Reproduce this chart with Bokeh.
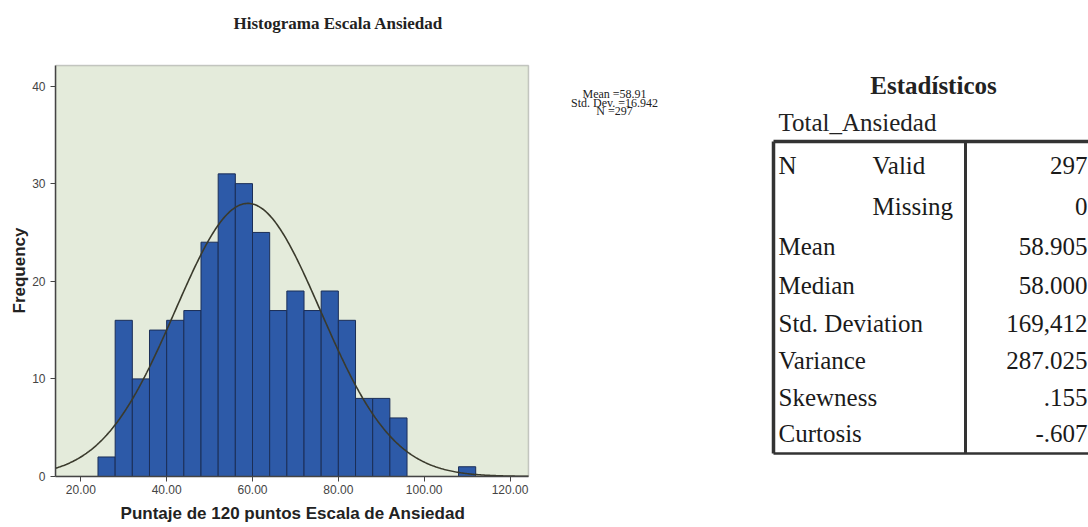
import numpy as np
from bokeh.plotting import figure
from bokeh.layouts import row
from bokeh.models import Range1d, FixedTicker, NumeralTickFormatter, BoxAnnotation, Title
from bokeh.core.properties import value
from bokeh.embed import file_html
from bokeh.resources import INLINE

# ---------------- data ----------------
bin_width = 4
bin_starts = [24, 28, 32, 36, 40, 44, 48, 52, 56, 60, 64, 68, 72, 76, 80, 84, 88, 92, 96, 100, 104, 108]
counts     = [2, 16, 10, 15, 16, 17, 24, 31, 30, 25, 17, 19, 17, 19, 16, 8, 8, 6, 0, 0, 0, 1]
mean_val = 58.91
sd_val = 16.942
n_val = 297
x_ticks = [20, 40, 60, 80, 100, 120]
y_ticks = [0, 10, 20, 30, 40]

chart_title = "Histograma Escala Ansiedad"
legend_lines = ["Mean =58.91", "Std. Dev. =16.942", "N =297"]

table_title = "Estadísticos"
table_var = "Total_Ansiedad"
row_labels = ["N", "", "Mean", "Median", "Std. Deviation", "Variance", "Skewness", "Curtosis"]
row_sub = ["Valid", "Missing", "", "", "", "", "", ""]
row_values = ["297", "0", "58.905", "58.000", "169,412", "287.025", ".155", "-.607"]

# ---------------- layout constants (pixels) ----------------
H = 527
PLOT_TOP, BOTTOM = 65, 476      # plot box in page pixels
LEFT, RIGHT = 55, 528
LW = 548
X0, X1 = 14.1, 124.3            # plot box in data units
Y0, Y1 = 0, 42.1
px_x = (RIGHT - LEFT) / (X1 - X0)
px_y = (BOTTOM - PLOT_TOP) / (Y1 - Y0)
XR_END = X1 + 2 / px_x          # frame a little wider than the box
YR_END = Y1 + PLOT_TOP / px_y   # frame reaches the top of the page

# ---------------- histogram ----------------
p = figure(width=LW, height=H, output_backend="svg", toolbar_location=None,
           x_range=Range1d(X0, XR_END), y_range=Range1d(Y0, YR_END),
           min_border_left=LEFT, min_border_right=LW - (RIGHT + 2), min_border_top=0,
           min_border_bottom=H - BOTTOM)
p.background_fill_color = "white"
p.border_fill_color = "white"
p.outline_line_color = None
p.grid.visible = False

p.add_layout(BoxAnnotation(left=X0, right=X1, bottom=Y0, top=Y1,
                           fill_color="#E4EBDB", fill_alpha=1.0,
                           line_color="#555555", line_width=1.5, level="underlay"))

lefts = np.array(bin_starts, dtype=float)
p.quad(left=lefts, right=lefts + bin_width, bottom=0, top=counts,
       fill_color="#2D5AA8", line_color="#1B2E57", line_width=1)

xs = np.linspace(X0, X1, 400)
ys = n_val * bin_width * np.exp(-0.5 * ((xs - mean_val) / sd_val) ** 2) / (sd_val * np.sqrt(2 * np.pi))
p.line(xs, ys, line_color="#3A3A2C", line_width=1.6)

for ax in (p.xaxis, p.yaxis):
    ax.axis_line_color = "#444444"
    ax.axis_line_width = 1.5
    ax.major_tick_line_color = "#444444"
    ax.major_tick_out = 5
    ax.major_tick_in = 0
    ax.minor_tick_line_color = None
    ax.major_label_text_font = "Liberation Sans"
    ax.major_label_text_font_size = "12px"
    ax.major_label_text_color = "#444444"
    ax.axis_label_text_font = "Liberation Sans"
    ax.axis_label_text_font_style = "bold"
    ax.axis_label_text_color = "#222222"
    ax.axis_label_text_font_size = "17px"

p.xaxis.ticker = FixedTicker(ticks=x_ticks)
p.xaxis.formatter = NumeralTickFormatter(format="0.00")
p.xaxis.bounds = (X0, X1)
p.xaxis.axis_label = "Puntaje de 120 puntos Escala de Ansiedad"
p.xaxis.major_label_standoff = 3
p.xaxis.axis_label_standoff = 7
p.yaxis.ticker = FixedTicker(ticks=y_ticks)
p.yaxis.bounds = (Y0, Y1)

# y-axis title, positioned along the plot box (which is shorter than the frame)
p.add_layout(Title(text="Frequency", align="left", offset=163, standoff=2,
                   text_font="Liberation Sans", text_font_size="17px",
                   text_font_style="bold", text_color="#222222"), "left")

# chart title inside the (tall) frame, above the plot box
p.text(x=[X0 + (233 - LEFT) / px_x], y=[Y1 + (PLOT_TOP - 23) / px_y], text=[chart_title],
       text_font=value("Liberation Serif"), text_font_size="17px", text_font_style="bold",
       text_color="#222222", text_align="left", text_baseline="middle")

# ---------------- right side: legend text + statistics table (pixel coords) ----------------
RW = 1088 - LW
q = figure(width=RW, height=H, output_backend="svg", toolbar_location=None,
           x_range=Range1d(0, RW), y_range=Range1d(BOTTOM, 0),
           x_axis_type=None, y_axis_type=None,
           min_border_left=0, min_border_right=0,
           min_border_top=0, min_border_bottom=H - BOTTOM)
q.outline_line_color = None
q.grid.visible = False
q.background_fill_color = "white"
q.border_fill_color = "white"

ox = -LW
# legend text
q.text(x=[614 + ox] * 3, y=[93, 102, 110], text=legend_lines,
       text_font=value("Liberation Serif"), text_font_size="12px",
       text_align="center", text_baseline="middle", text_color="#222222")

# table
q.text(x=[933 + ox], y=[85], text=[table_title], text_font=value("Liberation Serif"),
       text_font_size="25px", text_font_style="bold", text_align="center",
       text_baseline="middle", text_color="#222222")
q.text(x=[778 + ox], y=[122], text=[table_var], text_font=value("Liberation Serif"),
       text_font_size="25px", text_align="left", text_baseline="middle", text_color="#222222")

row_y = [165, 206, 246, 285, 323, 360, 397, 433]
q.text(x=[778 + ox] * len(row_labels), y=row_y, text=row_labels,
       text_font=value("Liberation Serif"), text_font_size="25px",
       text_align="left", text_baseline="middle", text_color="#1a1a1a")
q.text(x=[872 + ox] * len(row_sub), y=row_y, text=row_sub,
       text_font=value("Liberation Serif"), text_font_size="25px",
       text_align="left", text_baseline="middle", text_color="#1a1a1a")
q.text(x=[1087 + ox] * len(row_values), y=row_y, text=row_values,
       text_font=value("Liberation Serif"), text_font_size="25px",
       text_align="right", text_baseline="middle", text_color="#1a1a1a")

# borders
q.segment(x0=[773 + ox, 773 + ox, 773 + ox, 965 + ox],
          y0=[141, 453, 141, 141],
          x1=[RW, RW, 773 + ox, 965 + ox],
          y1=[141, 453, 453, 453],
          line_color="#333333", line_width=[3.5, 2.5, 3.5, 3])

layout = row(p, q)
open("out.html", "w").write(file_html(layout, INLINE))
